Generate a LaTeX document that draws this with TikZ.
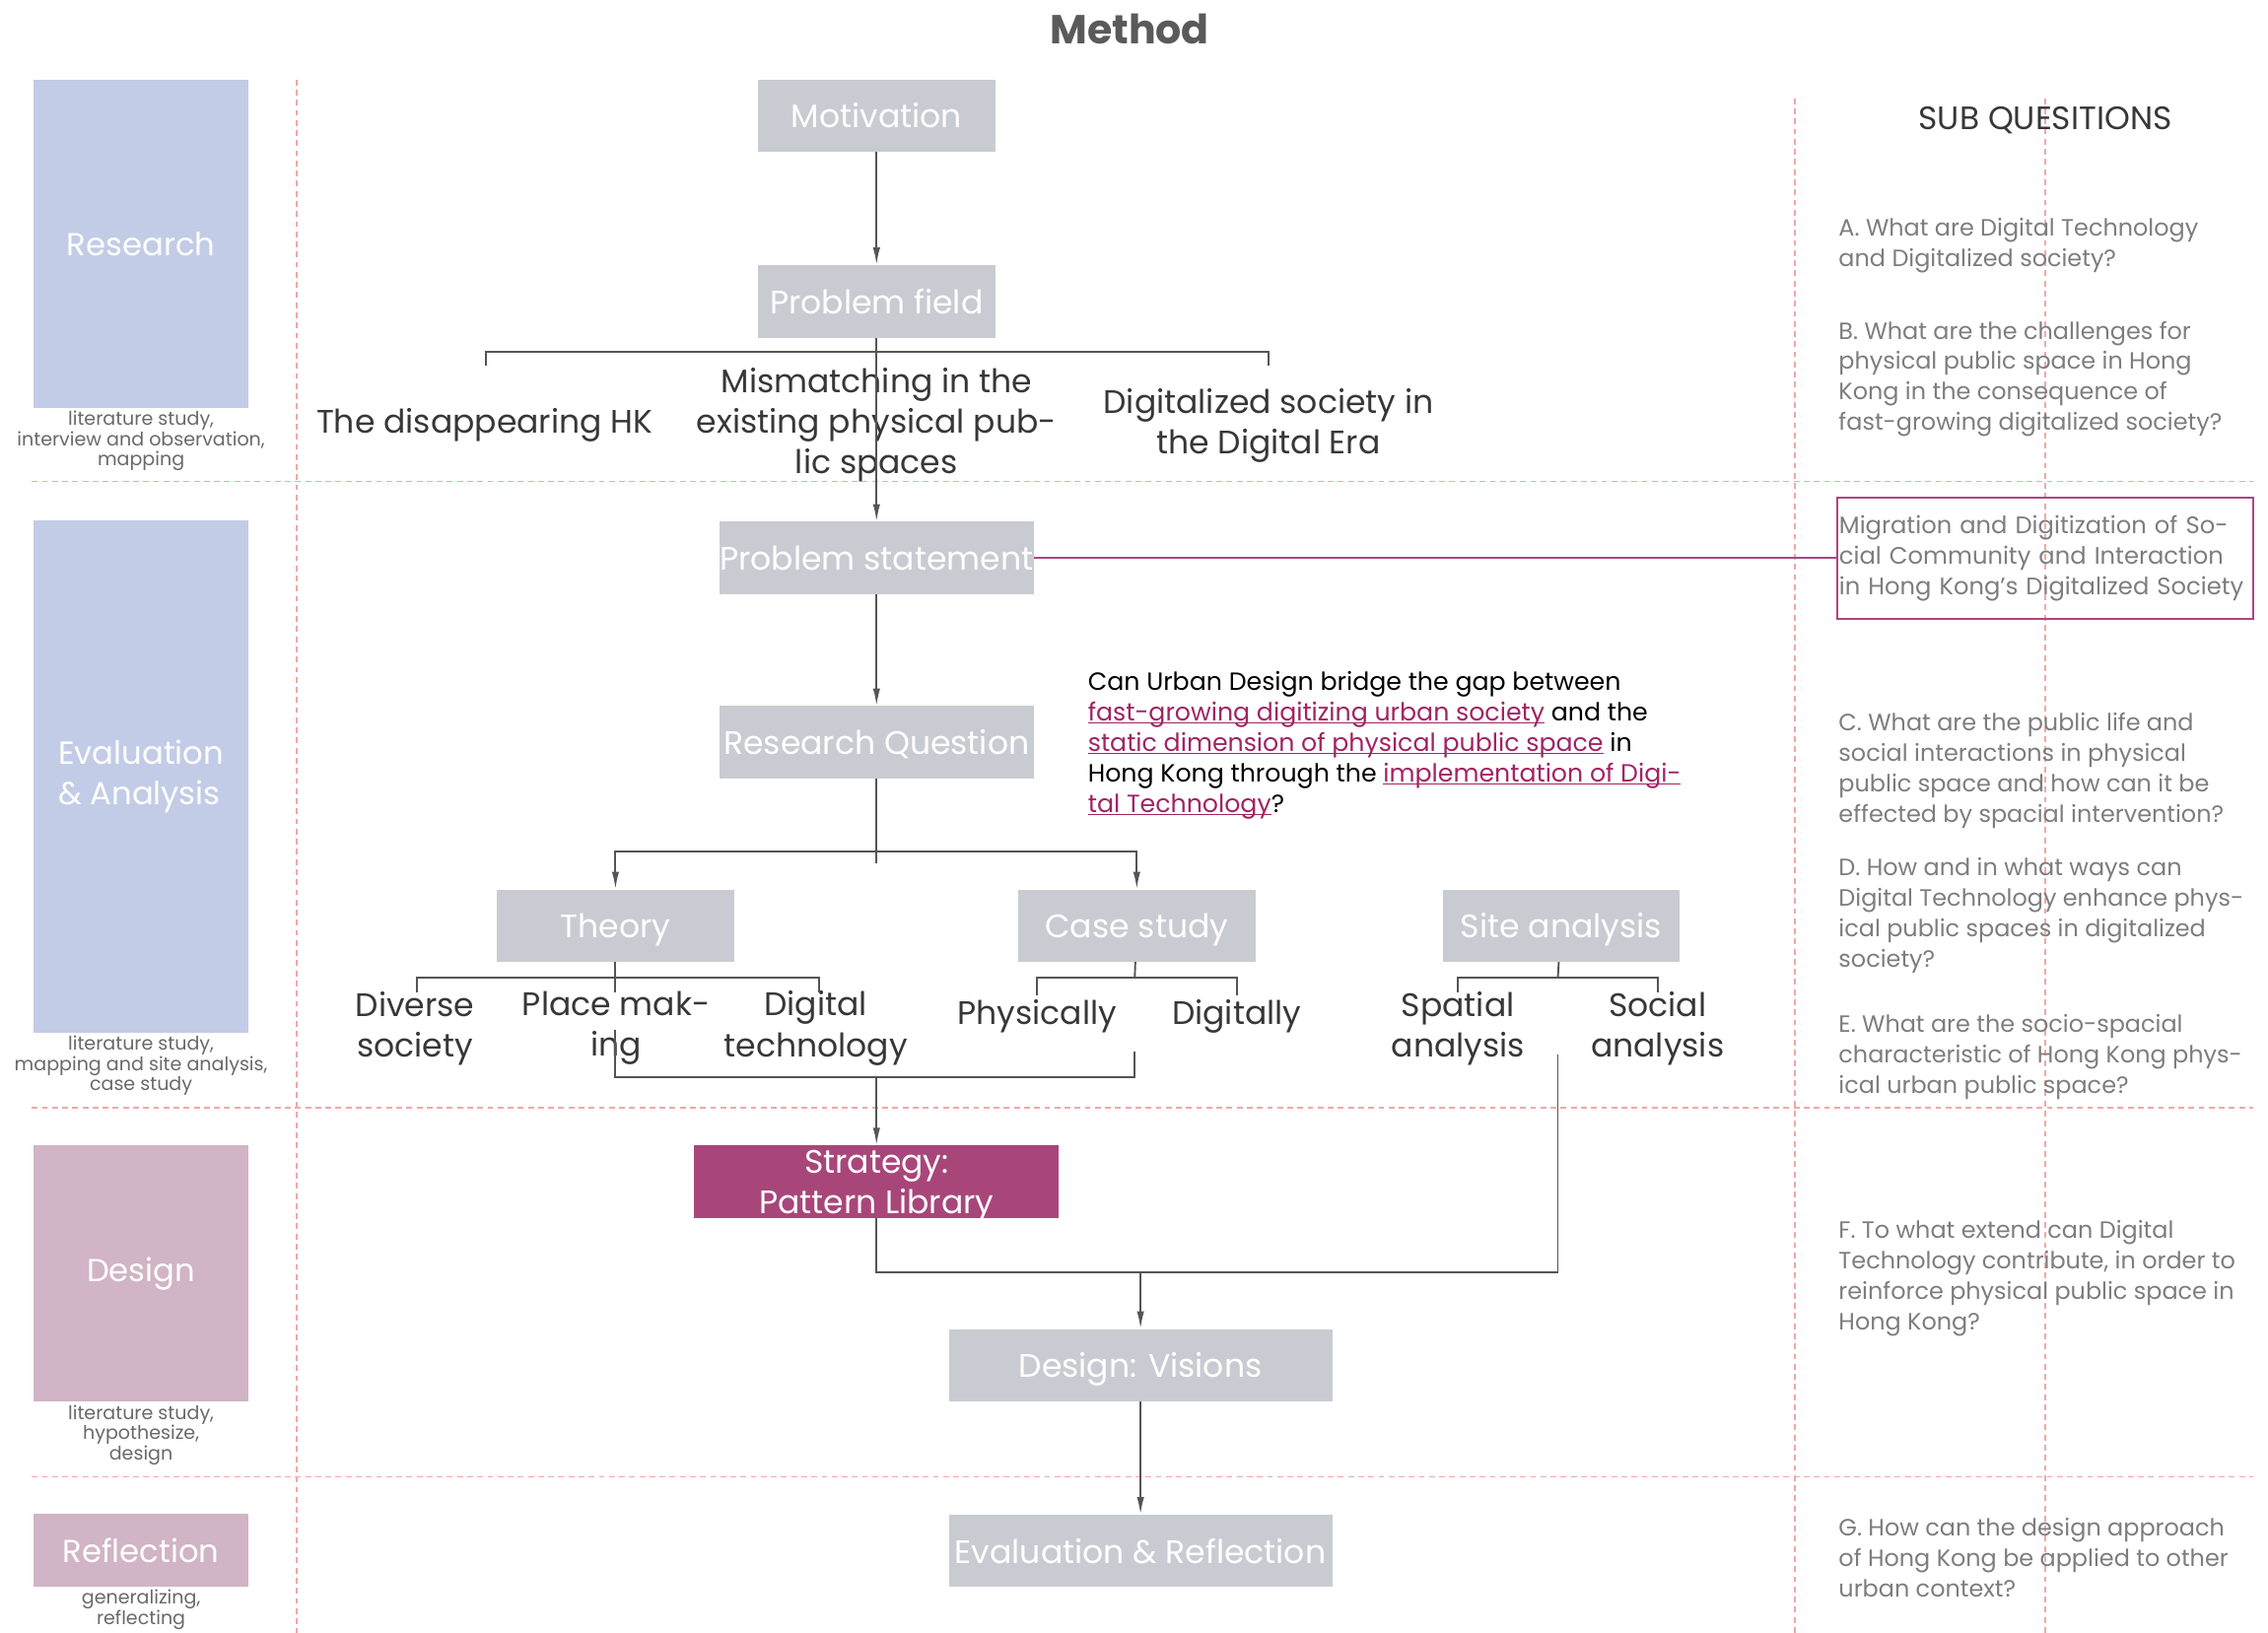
\documentclass[tikz,border=0pt]{standalone}
\usepackage{fontspec}
\setmainfont{Poppins}
\usetikzlibrary{arrows.meta,positioning,calc}

\definecolor{boxgray}{RGB}{200,204,210}
\definecolor{phaseblue}{RGB}{195,204,230}
\definecolor{phasepink}{RGB}{209,180,197}
\definecolor{stratpink}{RGB}{168,70,122}
\definecolor{qpink}{RGB}{176,69,127}
\definecolor{ulpink}{RGB}{160,36,100}
\definecolor{gridpink}{RGB}{242,167,167}
\definecolor{linegray}{RGB}{85,85,85}
\definecolor{txtdark}{RGB}{55,55,55}
\definecolor{qgray}{RGB}{125,125,125}
\definecolor{capgray}{RGB}{105,105,105}
\definecolor{titlegray}{RGB}{90,90,90}

\newcommand{\fsz}[2]{\fontsize{#1}{#2}\selectfont}
\newcommand{\ulq}[1]{\textcolor{ulpink}{\underline{\smash{#1}}}}

\begin{document}
\begin{tikzpicture}[
    x=1pt,y=-1pt,
    stage/.style={fill=boxgray,minimum width=164pt,minimum height=50pt,
                  inner sep=0pt,text depth=0pt,text=white,font=\fsz{22.5}{27}},
    phase/.style={minimum width=149pt,inner sep=0pt,text=white,
                  font=\fsz{22}{28},align=left},
    note/.style={text=capgray,font=\fsz{13}{14},align=center,inner sep=0pt},
    item/.style={text=txtdark,font=\fsz{22.5}{28},align=center,inner sep=0pt},
    sub/.style={text=qgray,font=\fsz{16.3}{21},align=left,anchor=west,inner sep=0pt},
    guide/.style={draw=gridpink,line width=1pt,dash pattern=on 4pt off 3pt},
    link/.style={draw=linegray,line width=1.3pt},
    flow/.style={link,-{Latex[length=12pt,width=5pt]}}
  ]
    \useasboundingbox (0,0) rectangle (1568,1129);

    %% grid
    \draw[guide] (22,333) -- (1558,333);
    \draw[guide] (22,766) -- (1558,766);
    \draw[guide] (22,1021) -- (1558,1021);
    \draw[guide] (205,55) -- (205,1129);
    \draw[guide] (1241,68) -- (1241,1129);
    \draw[guide] (1414,68) -- (1414,1129);

    \node[font=\fsz{28}{32}\bfseries,text=titlegray] (title) at (781,20) {Method};

    %% phases
    \node[phase,fill=phaseblue,minimum height=227pt] (res) at (97.5,168.5) {Research};
    \node[note,below=2pt of res] (resN) {literature study,\\interview and observation,\\mapping};
    \node[phase,fill=phaseblue,minimum height=354pt] (eva) at (97.5,537) {Evaluation\\\& Analysis};
    \node[note,below=2pt of eva] (evaN) {literature study,\\mapping and site analysis,\\case study};
    \node[phase,fill=phasepink,minimum height=177pt] (des) at (97.5,880.5) {Design};
    \node[note,below=2pt of des] (desN) {literature study,\\hypothesize,\\design};
    \node[phase,fill=phasepink,minimum height=50pt] (ref) at (97.5,1072) {Reflection};
    \node[note,below=2pt of ref] (refN) {generalizing,\\reflecting};

    %% main column
    \node[stage] (mot) at (606,80) {Motivation};
    \node[stage,below=78pt of mot] (pf) {Problem field};
    \node[stage,minimum width=217pt,below=127pt of pf] (ps) {Problem statement};
    \node[stage,minimum width=217pt,below=77pt of ps] (rq) {Research Question};
    \node[stage] (th) at (425.5,640) {Theory};
    \node[stage,right=196pt of th] (cs) {Case study};
    \node[stage,right=129pt of cs] (sa) {Site analysis};
    \node[stage,fill=stratpink,minimum width=252pt,align=center] (strat) at (606,817)
      {Strategy:\\[1pt]Pattern Library};
    \node[stage,minimum width=265pt] (dv) at (788.5,944) {Design: Visions};
    \node[stage,minimum width=265pt,below=78pt of dv] (er) {Evaluation \& Reflection};

    %% problem field items
    \node[item] (hk) at (335,294) {The disappearing HK};
    \node[item] (mis) at (606,294) {Mismatching in the\\existing physical pub-\\lic spaces};
    \node[item] (era) at (877,294) {Digitalized society in\\the Digital Era};

    %% theory / case / site items
    \node[item] (dvs) at (287,711) {Diverse\\society};
    \node[item] (pm) at (426,711) {Place mak-\\ing};
    \node[item] (dt) at (564,711) {Digital\\technology};
    \node[item] (phy) at (717,703) {Physically};
    \node[item] (dig) at (855,703) {Digitally};
    \node[item] (spa) at (1008,711) {Spatial\\analysis};
    \node[item] (soc) at (1146,711) {Social\\analysis};

    %% research question text
    \node[text=black,font=\fsz{17.2}{21},align=left,anchor=west,inner sep=0pt] (rqt) at (752,514)
      {Can Urban Design bridge the gap between\\
       \ulq{fast-growing digitizing urban society} and the\\
       \ulq{static dimension of physical public space} in\\
       Hong Kong through the \ulq{implementation of Digi-}\\
       \ulq{tal Technology}?};

    %% sub questions
    \node[font=\fsz{22.4}{26},text=txtdark] (subT) at (1414,83) {SUB QUESITIONS};
    \node[sub] (qA) at (1271,170) {A. What are Digital Technology\\and Digitalized society?};
    \node[sub] (qB) at (1271,262) {B. What are the challenges for\\physical public space in Hong\\Kong in the consequence of\\fast-growing digitalized society?};
    \node[draw=qpink,line width=1.2pt,minimum width=288pt,minimum height=84pt,
          text width=285pt,inner sep=1.5pt,align=left,text=qgray,font=\fsz{16.5}{21}] (mig) at (1414,386)
      {Migration and Digitization of So-\\cial Community and Interaction\\in Hong Kong’s Digitalized Society};
    \node[sub] (qC) at (1271,533) {C. What are the public life and\\social interactions in physical\\public space and how can it be\\effected by spacial intervention?};
    \node[sub] (qD) at (1271,633) {D. How and in what ways can\\Digital Technology enhance phys-\\ical public spaces in digitalized\\society?};
    \node[sub] (qE) at (1271,731) {E. What are the socio-spacial\\characteristic of Hong Kong phys-\\ical urban public space?};
    \node[sub] (qF) at (1271,884) {F. To what extend can Digital\\Technology contribute, in order to\\reinforce physical public space in\\Hong Kong?};
    \node[sub] (qG) at (1271,1077) {G. How can the design approach\\of Hong Kong be applied to other\\urban context?};

    %% bracket coordinates
    \coordinate (pfbar) at (606,243);
    \coordinate (hkT) at (336,253);
    \coordinate (eraT) at (877,253);
    \coordinate (rqbar) at (606,589);
    \coordinate (rqE) at (606,597);
    \coordinate (thE) at (425.5,686);
    \coordinate (thbar) at (425.5,676);
    \coordinate (dvsT) at (288,686);
    \coordinate (dtT) at (566,686);
    \coordinate (csE) at (784.5,676);
    \coordinate (phyT) at (717,688);
    \coordinate (digT) at (855,688);
    \coordinate (saE) at (1077,676);
    \coordinate (spaT) at (1008,686);
    \coordinate (socT) at (1146,686);
    \coordinate (pmB) at (425.5,712);
    \coordinate (phyB) at (784.5,727);
    \coordinate (jn) at (606,745);
    \coordinate (saB) at (1077,729);
    \coordinate (dvjn) at (788.5,880);

    %% problem field -> items -> statement
    \draw[link] (hkT) |- (pfbar) -| (eraT);
    \draw[flow] (pf) -- (ps);
    \draw[flow] (mot) -- (pf);
    \draw[flow] (ps) -- (rq);
    \draw[qpink,line width=1.2pt] (ps.east) -- (ps.east -| mig.west);

    %% research question -> theory, case study
    \draw[link] (rq) -- (rqE);
    \draw[flow] (rqbar) -| (th);
    \draw[flow] (rqbar) -| (cs);

    %% branches
    \draw[link] (th) -- (thE);
    \draw[link] (dvsT) |- (thbar) -| (dtT);
    \draw[link] (cs) -- (csE);
    \draw[link] (phyT) |- (csE) -| (digT);
    \draw[link] (sa) -- (saE);
    \draw[link] (spaT) |- (saE) -| (socT);

    %% into strategy and visions
    \draw[link] (pmB) |- (jn) -| (phyB);
    \draw[flow] (jn) -- (strat);
    \draw[link] (strat.south) |- (dvjn) -| (saB);
    \draw[flow] (dvjn) -- (dv);
    \draw[flow] (dv) -- (er);
\end{tikzpicture}
\end{document}
